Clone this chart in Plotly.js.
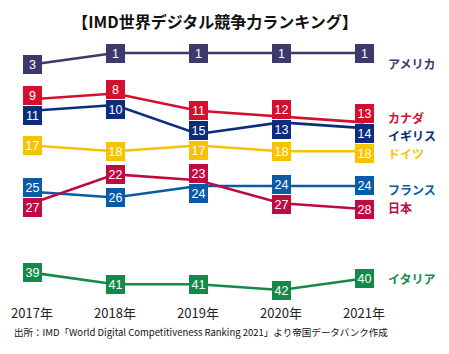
<!DOCTYPE html>
<html><head><meta charset="utf-8">
<script src="https://cdn.plot.ly/plotly-3.0.1.min.js"></script>
<style>html,body{margin:0;padding:0;background:#fff}</style>
</head><body><div id="chart" style="width:449px;height:354px"></div>
<script>
const years = [2017, 2018, 2019, 2020, 2021];
const yearLabels = ['2017年', '2018年', '2019年', '2020年', '2021年'];
const countries = ['アメリカ', 'カナダ', 'イギリス', 'ドイツ', 'フランス', '日本', 'イタリア'];
const usa = [3, 1, 1, 1, 1];
const canada = [9, 8, 11, 12, 13];
const uk = [11, 10, 15, 13, 14];
const germany = [17, 18, 17, 18, 18];
const france = [25, 26, 24, 24, 24];
const japan = [27, 22, 23, 27, 28];
const italy = [39, 41, 41, 42, 40];
const titleText = '【IMD世界デジタル競争力ランキング】';
const sourceText = '出所：IMD「World Digital Competitiveness Ranking 2021」より帝国データバンク作成';

const series = [usa, canada, uk, germany, france, japan, italy];
const colors = ['#3b3a6b', '#d5102f', '#0c2c7c', '#f7c300', '#0a5aa6', '#bf0b40', '#138a49'];
const labelShift = [-10, 5, -7, -2, -4, 2, 0];

const W = 449, H = 354, M = {l: 0, r: 0, t: 30, b: 50};
const yRange = [42 + 14 / 5.78, 1 - 23 / 5.78];
const pxPerUnit = (H - M.t - M.b) / (yRange[0] - yRange[1]);
const BOX = 19, MIN_GAP = 20;

// label-box collision avoidance (per year): boxes are pushed apart in pixels, lines stay at true ranks
const shifts = series.map(() => years.map(() => 0));
years.forEach((yr, j) => {
  const items = series.map((s, i) => ({i, p: s[j] * pxPerUnit, p0: s[j] * pxPerUnit})).sort((a, b) => a.p - b.p);
  for (let iter = 0; iter < 50; iter++) {
    let moved = false;
    for (let k = 0; k < items.length - 1; k++) {
      const gap = items[k + 1].p - items[k].p;
      if (gap < MIN_GAP - 0.01) {
        const d = (MIN_GAP - gap) / 2;
        items[k].p -= d; items[k + 1].p += d; moved = true;
      }
    }
    if (!moved) break;
  }
  items.forEach(it => { shifts[it.i][j] = -(it.p - it.p0); });
});

const traces = series.map((vals, i) => ({
  x: years, y: vals, type: 'scatter', mode: 'lines',
  name: countries[i],
  line: {color: colors[i], width: 2.6},
  hoverinfo: 'skip'
}));

const annotations = [];
series.forEach((vals, i) => {
  vals.forEach((v, j) => {
    annotations.push({
      x: years[j], y: v, xref: 'x', yref: 'y', yshift: shifts[i][j],
      text: String(v), showarrow: false, xanchor: 'center', yanchor: 'middle',
      width: BOX, height: BOX, borderpad: 0, borderwidth: 0, bgcolor: colors[i],
      align: 'center', valign: 'middle',
      font: {family: 'Liberation Sans, Arial, sans-serif', size: 12.5, color: '#ffffff'}
    });
  });
});
series.forEach((vals, i) => {
  annotations.push({
    x: years[years.length - 1], y: vals[vals.length - 1], xref: 'x', yref: 'y',
    text: countries[i], showarrow: false, xanchor: 'left', yanchor: 'middle',
    xshift: 22, yshift: labelShift[i],
    font: {family: 'Noto Sans CJK JP, sans-serif', size: 12, color: colors[i], weight: 'bold'}
  });
});
annotations.push({
  x: 12 / W, y: -0.102, xref: 'paper', yref: 'paper', xanchor: 'left', yanchor: 'middle',
  text: sourceText, showarrow: false,
  font: {family: 'Noto Sans CJK JP, sans-serif', size: 9.5, color: '#111'}
});

const layout = {
  width: W, height: H, margin: M,
  paper_bgcolor: '#ffffff', plot_bgcolor: '#ffffff',
  showlegend: false,
  title: {
    text: titleText, x: 0.479, xref: 'container', xanchor: 'center',
    y: 1 - 22 / H, yref: 'container', yanchor: 'middle',
    font: {family: 'Noto Sans CJK JP, sans-serif', size: 16, color: '#111', weight: 'bold'}
  },
  xaxis: {
    range: [2017 - 32 / 83, 2017 + 417 / 83],
    tickvals: years, ticktext: yearLabels,
    showgrid: false, zeroline: false, showline: false, ticks: '',
    tickfont: {family: 'Noto Sans CJK JP, sans-serif', size: 13, color: '#222'}
  },
  yaxis: {range: yRange, visible: false, showgrid: false, zeroline: false},
  annotations: annotations
};

Plotly.newPlot('chart', traces, layout, {staticPlot: true, displayModeBar: false});
</script></body></html>
